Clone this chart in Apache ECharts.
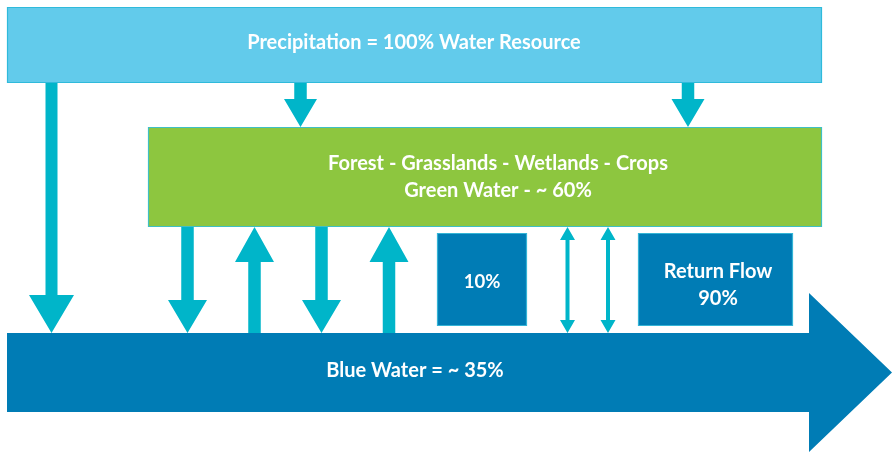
<!DOCTYPE html>
<html>
<head>
<meta charset="utf-8">
<script src="https://cdn.jsdelivr.net/npm/echarts@6/dist/echarts.min.js"></script>
<style>html,body{margin:0;padding:0;background:#fff}#c{width:892px;height:452px}</style>
</head>
<body>
<div id="c"></div>
<script>
// ---- content (labels and shares of the water resource) ----
const stageNames = ['Precipitation', 'Forest - Grasslands - Wetlands - Crops', 'Return Flow', 'Blue Water'];
const shareLabels = ['100% Water Resource', 'Green Water - ~ 60%', '10%', '90%', '~ 35%'];
const boxTexts = [
  stageNames[0] + ' = ' + shareLabels[0],
  stageNames[1] + '\n' + shareLabels[1],
  shareLabels[2],
  stageNames[2] + '\n' + shareLabels[3]
];
const arrowText = stageNames[3] + ' = ' + shareLabels[4];

// ---- diagram layout (in axis units, drawn through the value axes) ----
const boxes = [ // x0, y0, x1, y1, textIndex, textX, textY, fill, border, fontSize
  [7, 7, 822, 83, 0, 414, 43, '#62cbeb', '#2fbadb', 20],
  [148, 127, 822, 227, 1, 498, 177, '#8dc63f', '#3fbfc4', 20],
  [437, 233, 527, 326, 2, 482, 282, '#007cb5', '#34b4d6', 18.5],
  [638, 233, 793, 326, 3, 718, 285, '#007cb5', '#34b4d6', 20]
];
const singleArrows = [ // centerX, tailY, tipY, shaftW, headW, headL
  [51.5, 83, 333, 12, 45, 38],
  [300.5, 83, 127, 12.5, 33, 28],
  [688, 83, 127, 12.5, 33, 28],
  [187.5, 227, 333, 12.5, 39, 33],
  [254.5, 333, 227, 12.5, 39, 35],
  [321.5, 227, 333, 12.5, 39, 33],
  [389, 333, 227, 12.5, 39, 35]
];
const doubleArrows = [ // centerX, topY, bottomY, shaftW, headW, headL
  [567.5, 227, 333, 4, 15, 13],
  [608, 227, 333, 4, 15, 13]
];
const bigArrow = [7, 333, 809, 412, 293, 452, 892]; // x0, bodyTop, headX, bodyBottom, headTop, headBottom, tipX

const FONT = 'Lato';
const chart = echarts.init(document.getElementById('c'), null, {renderer: 'canvas'});

function polyShape(api, pts) {
  return {points: pts.map(p => api.coord(p))};
}

const option = {
  animation: false,
  grid: {left: 0, right: 0, top: 0, bottom: 0},
  xAxis: {type: 'value', min: 0, max: 892, show: false},
  yAxis: {type: 'value', min: 0, max: 452, inverse: true, show: false},
  series: [
    { // blue water arrow
      type: 'custom', coordinateSystem: 'cartesian2d', silent: true,
      data: [bigArrow],
      renderItem: function (params, api) {
        const a = bigArrow;
        const pts = [[a[0], a[1]], [a[2], a[1]], [a[2], a[4]], [a[6], (a[4] + a[5]) / 2],
                     [a[2], a[5]], [a[2], a[3]], [a[0], a[3]]];
        const c = api.coord([415, 371]);
        return {
          type: 'group', children: [
            {type: 'polygon', shape: polyShape(api, pts), style: {fill: '#007cb5'}},
            {type: 'text', x: c[0], y: c[1], style: {text: arrowText, fill: '#fff', font: 'bold 20px ' + FONT, align: 'center', verticalAlign: 'middle'}}
          ]
        };
      }
    },
    { // boxes
      type: 'custom', coordinateSystem: 'cartesian2d', silent: true,
      data: boxes.map((b, i) => [i]),
      renderItem: function (params, api) {
        const b = boxes[params.dataIndex];
        const p0 = api.coord([b[0], b[1]]);
        const p1 = api.coord([b[2], b[3]]);
        const tc = api.coord([b[5], b[6]]);
        return {
          type: 'group', children: [
            {type: 'rect', shape: {x: p0[0] + 0.5, y: p0[1] + 0.5, width: p1[0] - p0[0] - 1, height: p1[1] - p0[1] - 1},
             style: {fill: b[7], stroke: b[8], lineWidth: 1.2}},
            {type: 'text', x: tc[0], y: tc[1], style: {text: boxTexts[b[4]], fill: '#fff', font: 'bold ' + b[9] + 'px ' + FONT, lineHeight: 27, align: 'center', verticalAlign: 'middle'}}
          ]
        };
      }
    },
    { // single arrows
      type: 'custom', coordinateSystem: 'cartesian2d', silent: true,
      data: singleArrows.map((a, i) => [i]),
      renderItem: function (params, api) {
        const a = singleArrows[params.dataIndex];
        const cx = a[0], t = a[1], tip = a[2], sw = a[3] / 2, hw = a[4] / 2;
        const dir = tip > t ? 1 : -1;
        const hb = tip - dir * a[5];
        const pts = [[cx - sw, t], [cx + sw, t], [cx + sw, hb], [cx + hw, hb], [cx, tip], [cx - hw, hb], [cx - sw, hb]];
        return {type: 'polygon', shape: polyShape(api, pts), style: {fill: '#00b5c9'}};
      }
    },
    { // double arrows
      type: 'custom', coordinateSystem: 'cartesian2d', silent: true,
      data: doubleArrows.map((a, i) => [i]),
      renderItem: function (params, api) {
        const a = doubleArrows[params.dataIndex];
        const cx = a[0], t = a[1], b = a[2], sw = a[3] / 2, hw = a[4] / 2, hl = a[5];
        const pts = [[cx, t], [cx + hw, t + hl], [cx + sw, t + hl], [cx + sw, b - hl], [cx + hw, b - hl], [cx, b],
                     [cx - hw, b - hl], [cx - sw, b - hl], [cx - sw, t + hl], [cx - hw, t + hl]];
        return {type: 'polygon', shape: polyShape(api, pts), style: {fill: '#00b5c9'}};
      }
    }
  ]
};
chart.setOption(option);
</script>
</body>
</html>
